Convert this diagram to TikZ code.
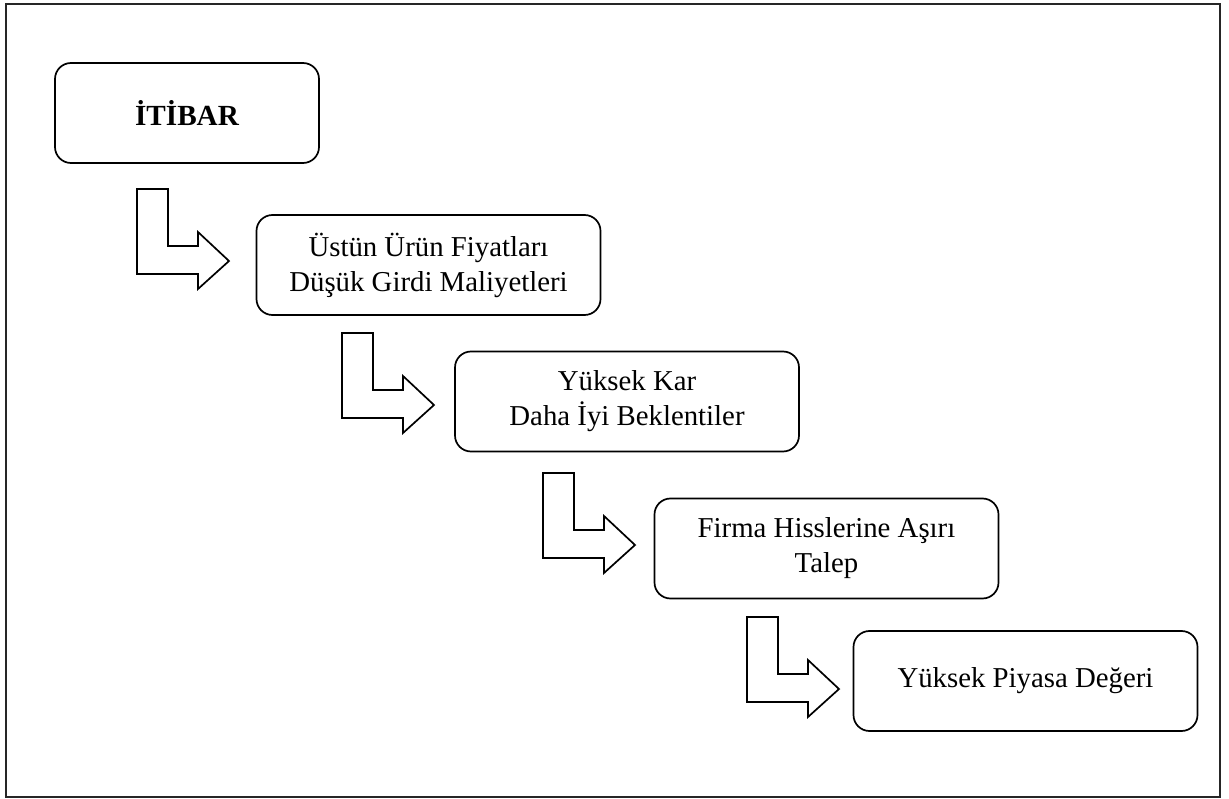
\documentclass[tikz,border=0pt]{standalone}
\usepackage{fontspec}
\setmainfont{Liberation Serif}
\begin{document}
\begin{tikzpicture}[x=1pt,y=-1pt,
  stepbox/.style={draw=black,line width=1.7pt,rounded corners=16pt,
    minimum width=344pt,minimum height=100pt,align=center,inner sep=0pt,
    font=\fontsize{28.8}{35}\selectfont},
  frameline/.style={draw=black!85,line width=1.6pt},
  arrowline/.style={draw=black,line width=1.7pt,line join=miter},
  larrow/.pic={\draw[arrowline] (0,0) -- (31,0) -- (31,57) -- (61,57) -- (61,43)
      -- (92,72) -- (61,100) -- (61,85) -- (0,85) -- cycle;}]
\useasboundingbox (0,0) rectangle (1229,799);
% outer frame
\draw[frameline] (6,4) rectangle (1220,797);
% stages
\node[stepbox,minimum width=264pt,font=\fontsize{29.2}{35}\selectfont\bfseries] (itibar) at (187,113) {İTİBAR};
\node[stepbox] (fiyat) at (428.5,265) {Üstün Ürün Fiyatları\\Düşük Girdi Maliyetleri};
\node[stepbox] (kar) at (627,401.5) {Yüksek Kar\\Daha İyi Beklentiler};
\node[stepbox] (talep) at (826.5,548.5) {Firma Hisslerine Aşırı\\Talep};
\node[stepbox] (deger) at (1025.5,681) {Yüksek Piyasa Değeri};
% bent block arrows between stages
\pic at (137,189) {larrow};
\pic at (342,333) {larrow};
\pic at (543,473) {larrow};
\pic at (747,617) {larrow};
\end{tikzpicture}
\end{document}
